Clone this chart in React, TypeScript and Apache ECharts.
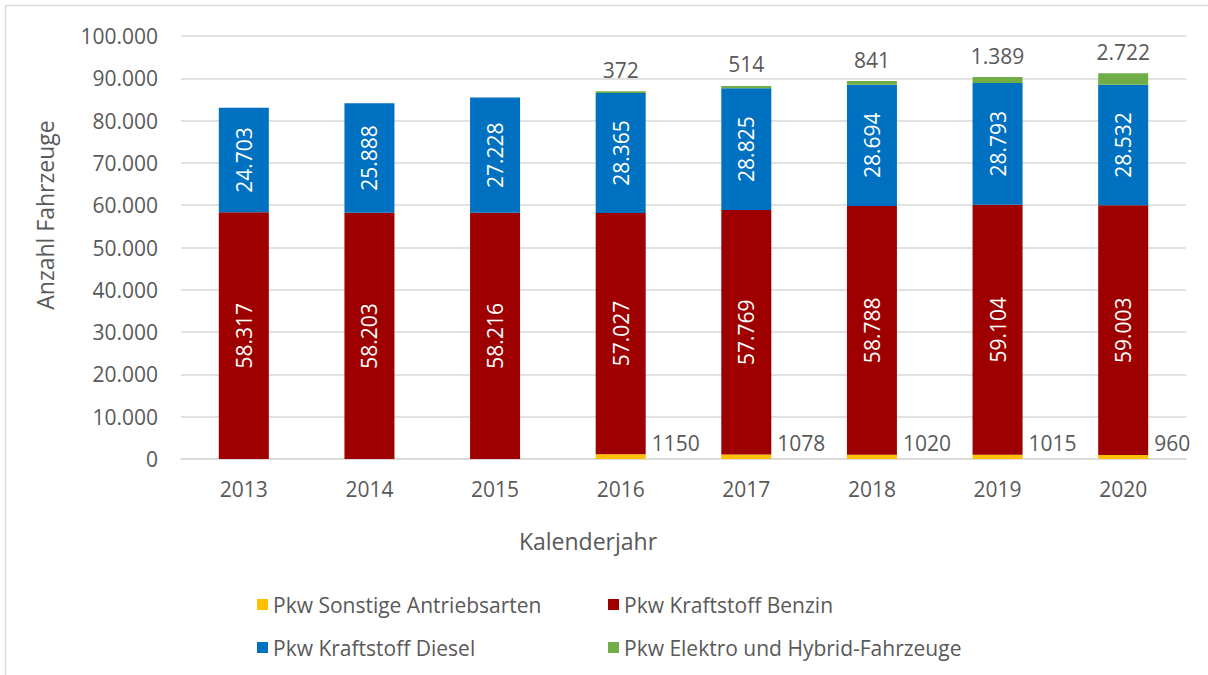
import React, { useEffect, useRef } from "react";
import * as echarts from "echarts";

const years = ["2013", "2014", "2015", "2016", "2017", "2018", "2019", "2020"];
const sonstige = [0, 0, 0, 1150, 1078, 1020, 1015, 960];
const benzin = [58317, 58203, 58216, 57027, 57769, 58788, 59104, 59003];
const diesel = [24703, 25888, 27228, 28365, 28825, 28694, 28793, 28532];
const elektro = [0, 0, 0, 372, 514, 841, 1389, 2722];
const seriesNames = [
  "Pkw Sonstige Antriebsarten",
  "Pkw Kraftstoff Benzin",
  "Pkw Kraftstoff Diesel",
  "Pkw Elektro und Hybrid-Fahrzeuge",
];

const FONT = "'Open Sans', sans-serif";
const GRAY = "#595959";
const FS = 21;

function de(v: number): string {
  const s = String(Math.round(v));
  return s.replace(/\B(?=(\d{3})+(?!\d))/g, ".");
}

export default function App() {
  const ref = useRef<HTMLDivElement>(null);
  useEffect(() => {
    document.body.style.margin = "0";
    const chart = echarts.init(ref.current!, null, { renderer: "svg" });
    const legendPos = [
      { left: 252, top: 589 },
      { left: 603, top: 589 },
      { left: 252, top: 632 },
      { left: 603, top: 632 },
    ];
    chart.setOption({
      animation: false,
      backgroundColor: "#ffffff",
      textStyle: { fontFamily: FONT },
      grid: { left: 181, right: 22, top: 36, bottom: 216 },
      legend: seriesNames.map((n, i) => ({
        data: [n],
        left: legendPos[i].left,
        top: legendPos[i].top,
        itemWidth: 11,
        itemHeight: 11,
        icon: "rect",
        itemGap: 6,
        textStyle: { color: GRAY, fontSize: FS, fontFamily: FONT },
      })),
      xAxis: {
        type: "category",
        data: years,
        axisLine: { lineStyle: { color: "#D9D9D9", width: 1.5 } },
        axisTick: { show: false },
        axisLabel: { color: GRAY, fontSize: FS, margin: 19, fontFamily: FONT },
      },
      yAxis: {
        type: "value",
        min: 0,
        max: 100000,
        interval: 10000,
        axisLine: { show: false },
        axisTick: { show: false },
        splitLine: { lineStyle: { color: "#D9D9D9", width: 1.5 } },
        axisLabel: {
          color: GRAY,
          fontSize: FS,
          margin: 23,
          fontFamily: FONT,
          formatter: (v: number) => de(v),
        },
      },
      graphic: [
        {
          type: "line",
          shape: { x1: 5.5, y1: 5.5, x2: 1208, y2: 5.5 },
          style: { stroke: "#D9D9D9", lineWidth: 1.5 },
        },
        {
          type: "line",
          shape: { x1: 5.5, y1: 5.5, x2: 5.5, y2: 675 },
          style: { stroke: "#D9D9D9", lineWidth: 1.5 },
        },
        {
          type: "text",
          x: 45,
          y: 215,
          rotation: Math.PI / 2,
          style: {
            text: "Anzahl Fahrzeuge",
            fill: GRAY,
            font: `23px ${FONT}`,
            align: "center",
            verticalAlign: "middle",
          },
        },
        {
          type: "text",
          x: 588,
          y: 541,
          style: {
            text: "Kalenderjahr",
            fill: GRAY,
            font: `23px ${FONT}`,
            align: "center",
            verticalAlign: "middle",
          },
        },
      ],
      series: [
        {
          name: seriesNames[0],
          type: "bar",
          stack: "a",
          barWidth: 50,
          data: sonstige,
          itemStyle: { color: "#FFC000" },
          label: {
            show: true,
            position: "right",
            offset: [0, -14],
            distance: 6,
            color: GRAY,
            fontSize: FS,
            fontFamily: FONT,
            formatter: (p: any) => (p.value ? String(p.value) : ""),
          },
        },
        {
          name: seriesNames[1],
          type: "bar",
          stack: "a",
          barWidth: 50,
          data: benzin,
          itemStyle: { color: "#9E0000" },
          label: {
            show: true,
            position: "inside",
            rotate: 90,
            color: "#ffffff",
            fontSize: FS,
            fontFamily: FONT,
            formatter: (p: any) => de(p.value),
          },
        },
        {
          name: seriesNames[2],
          type: "bar",
          stack: "a",
          barWidth: 50,
          data: diesel,
          itemStyle: { color: "#0070C0" },
          label: {
            show: true,
            position: "inside",
            rotate: 90,
            color: "#ffffff",
            fontSize: FS,
            fontFamily: FONT,
            formatter: (p: any) => de(p.value),
          },
        },
        {
          name: seriesNames[3],
          type: "bar",
          stack: "a",
          barWidth: 50,
          data: elektro,
          itemStyle: { color: "#70AD47" },
          label: {
            show: true,
            position: "top",
            distance: 11,
            color: GRAY,
            fontSize: FS,
            fontFamily: FONT,
            formatter: (p: any) => (p.value ? de(p.value) : ""),
          },
        },
      ],
    });
    return () => chart.dispose();
  }, []);
  return <div ref={ref} style={{ width: 1208, height: 675 }} />;
}
